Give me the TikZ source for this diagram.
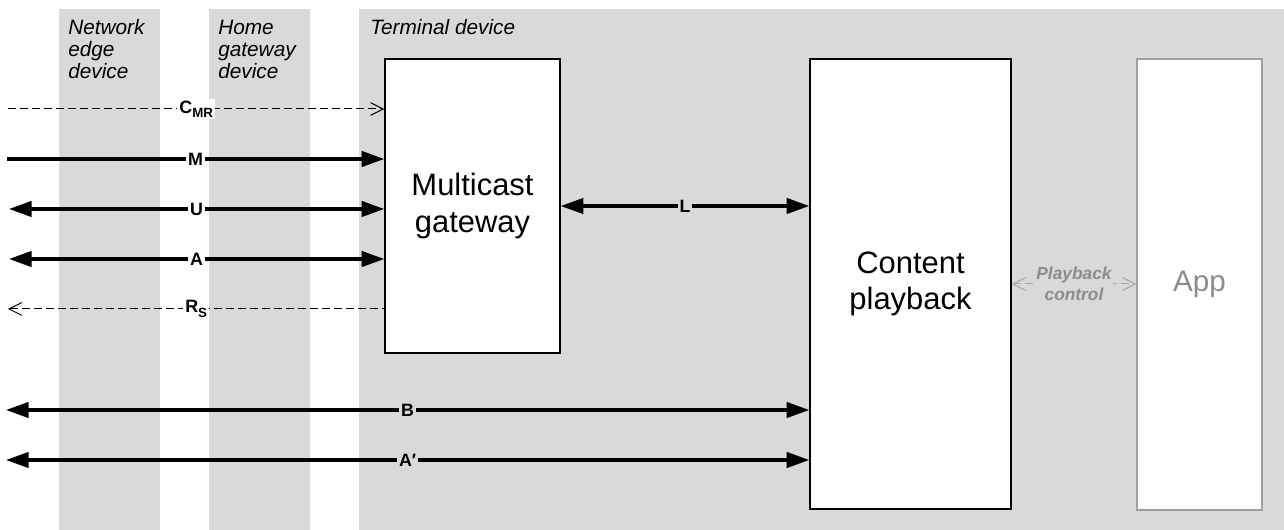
\documentclass[tikz,border=0pt]{standalone}
\usepackage{fontspec}
\setmainfont{Liberation Sans}
\usetikzlibrary{arrows.meta}
\definecolor{band}{RGB}{217,217,217}
\definecolor{softgray}{RGB}{140,140,140}
\definecolor{boxgray}{RGB}{160,160,160}
\definecolor{linegray}{RGB}{166,166,166}
\begin{document}
\begin{tikzpicture}[x=0.75pt,y=-0.75pt,
  tri/.tip={Triangle[length=17pt,width=11.5pt]},
  barb/.tip={Straight Barb[length=9.5pt,width=9.5pt,line width=0.75pt]},
  heading/.style={font=\fontsize{15.6pt}{16.5pt}\selectfont\itshape, align=left, anchor=base west, inner sep=0pt},
  block/.style={draw=black, line width=1pt, fill=white, font=\fontsize{23.2pt}{27.6pt}\selectfont, align=center, inner sep=0pt},
  thickline/.style={line width=2.4pt},
  dashline/.style={line width=0.75pt, dash pattern=on 6pt off 3pt},
  lbl/.style={font=\fontsize{13.4pt}{15pt}\selectfont\bfseries, inner sep=1.5pt, fill=white},
  lblband/.style={lbl, fill=band}
]
\useasboundingbox (0,0) rectangle (1284,530);
% background bands
\fill[band] (59,9) rectangle (160,530);
\fill[band] (209,9) rectangle (310,530);
\fill[band] (359,9) rectangle (1284,530);
% headings (base anchor = baseline of last line)
\node[heading] (ned) at (68,79) {Network\\edge\\device};
\node[heading] (hgd) at (218,79) {Home\\gateway\\device};
\node[heading] (td) at (370,35) {Terminal device};
% blocks
\node[block, minimum width=131.25pt, minimum height=220.5pt] (mg) at (472.5,206) {Multicast\\gateway};
\node[block, minimum width=150.75pt, minimum height=337.5pt] (cp) at (910.5,284) {Content\\playback};
\node[block, draw=boxgray, text=softgray, font=\fontsize{22.2pt}{26pt}\selectfont, minimum width=93.75pt, minimum height=338.25pt] (app) at (1199.5,284.5) {App};
% left free ends
\coordinate (cmrL) at (8,109);
\coordinate (mL) at (7,159);
\coordinate (uL) at (9,209);
\coordinate (aL) at (9,259);
\coordinate (rsL) at (8,309);
\coordinate (bL) at (6,410);
\coordinate (apL) at (6,460);
% connectors
\draw[dashline,-barb] (cmrL) -- (cmrL -| mg.west)
  node[lbl,midway] {C\raisebox{-0.45ex}{\fontsize{10pt}{11pt}\selectfont MR}};
\draw[thickline,-tri] (mL) -- (mL -| mg.west) node[lbl,midway] {M};
\draw[thickline,tri-tri] (uL) -- (uL -| mg.west) node[lbl,midway] {U};
\draw[thickline,tri-tri] (aL) -- (aL -| mg.west) node[lbl,midway] {A};
\draw[dashline,barb-] (rsL) -- (rsL -| mg.west)
  node[lbl,midway] {R\raisebox{-0.45ex}{\fontsize{10pt}{11pt}\selectfont S}};
\draw[thickline,tri-tri] (mg.east) -- (mg.east -| cp.west) node[lblband,midway] {L};
\draw[thickline,tri-tri] (bL) -- (bL -| cp.west) node[lblband,midway] {B};
\draw[thickline,tri-tri] (apL) -- (apL -| cp.west) node[lblband,midway] {A′};
\draw[dashline,draw=linegray,barb-barb] (cp.east) -- (cp.east -| app.west)
  node[midway, fill=band, inner sep=1pt, align=center, text=softgray,
       font=\fontsize{13pt}{15.75pt}\selectfont\bfseries\itshape] {Playback\\control};
\end{tikzpicture}
\end{document}
